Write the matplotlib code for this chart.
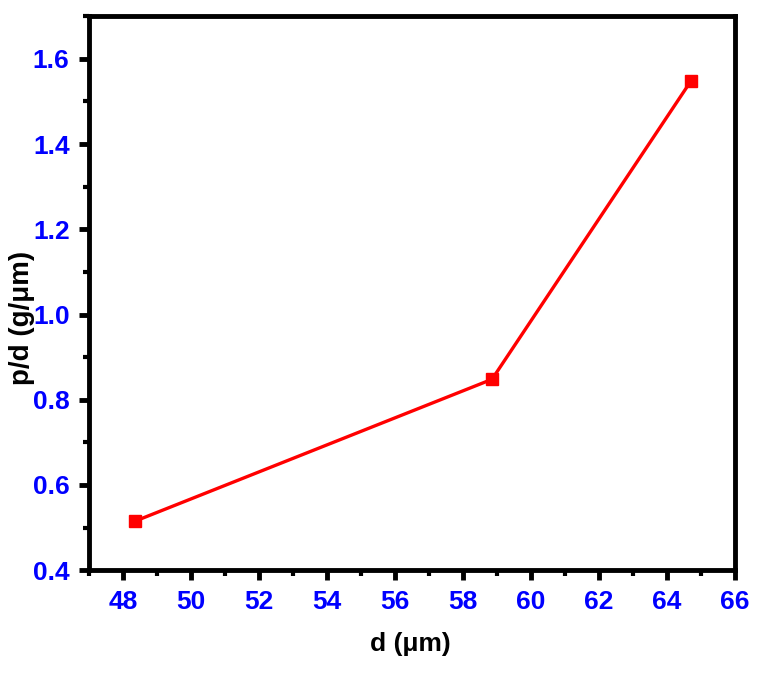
import matplotlib

matplotlib.use("Agg")
import matplotlib.pyplot as plt
from matplotlib.ticker import MultipleLocator

# Data
d_um = [48.35, 58.85, 64.7]
p_over_d = [0.515, 0.848, 1.548]

x_ticks = [48, 50, 52, 54, 56, 58, 60, 62, 64, 66]
y_ticks = [0.4, 0.6, 0.8, 1.0, 1.2, 1.4, 1.6]

plt.rcParams["font.family"] = ["Liberation Sans", "DejaVu Sans"]
plt.rcParams["font.weight"] = "bold"

fig = plt.figure(figsize=(7.61, 6.78), dpi=100)
ax = fig.add_axes([0.117, 0.159, 0.849, 0.817])

ax.plot(d_um, p_over_d, color="#ff0000", linewidth=2.4, marker="s",
        markersize=8, markerfacecolor="#ff0000", markeredgecolor="#ff0000")

ax.set_xlim(47, 66)
ax.set_ylim(0.4, 1.7)
ax.set_xticks(x_ticks)
ax.set_yticks(y_ticks)
ax.set_xticklabels([str(t) for t in x_ticks])
ax.set_yticklabels([f"{t:.1f}" for t in y_ticks])
ax.xaxis.set_minor_locator(MultipleLocator(1))
ax.yaxis.set_minor_locator(MultipleLocator(0.1))

for s in ax.spines.values():
    s.set_linewidth(3.5)
ax.tick_params(which="major", direction="out", length=7, width=3.5,
               labelsize=19, labelcolor="#0000ff", pad=7)
ax.tick_params(which="minor", direction="out", length=4, width=3)
ax.tick_params(top=False, right=False, which="both")

ax.set_xlabel("d (\u03bcm)", fontsize=19, fontweight="bold")
ax.set_ylabel("p/d (g/\u03bcm)", fontsize=20, fontweight="bold")
ax.xaxis.set_label_coords(0.497, -0.112)
ax.yaxis.set_label_coords(-0.083, 0.455)

fig.savefig("out.png", dpi=100)
